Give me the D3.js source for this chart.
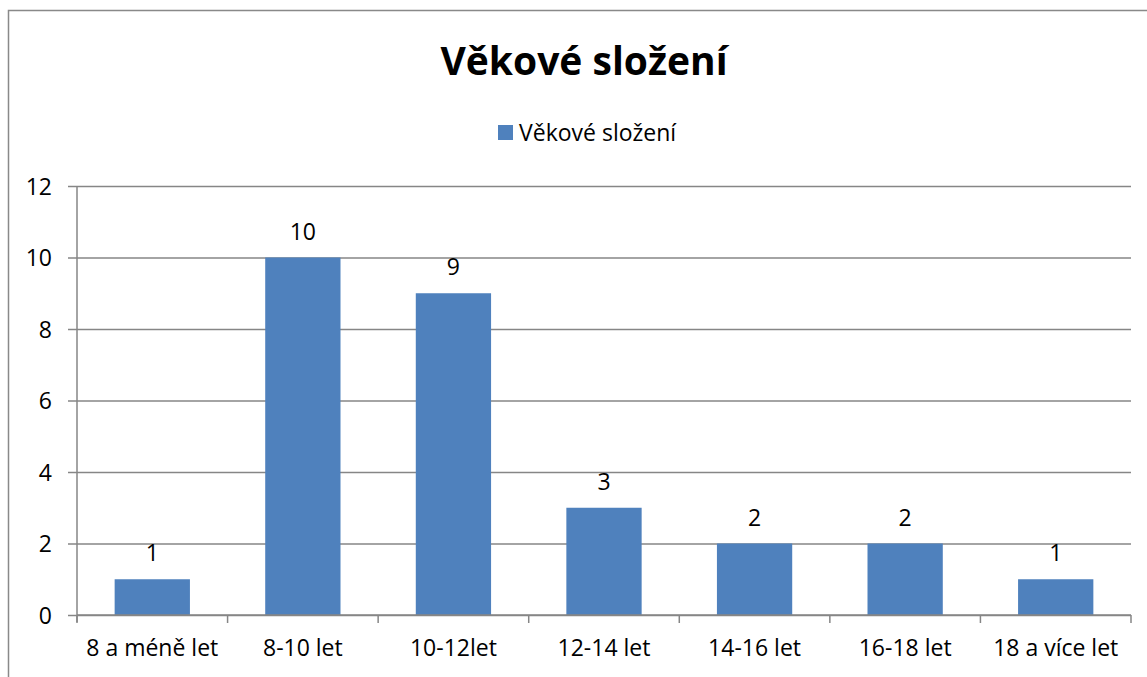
<!DOCTYPE html>
<html><head><meta charset="utf-8">
<script src="https://cdn.jsdelivr.net/npm/d3@7"></script>
<style>
html,body{margin:0;padding:0;background:#fff;}
svg{display:block;}
text{font-family:"Open Sans", sans-serif;fill:#000;}
</style></head>
<body>
<svg id="c" width="1147" height="677"></svg>
<script>
const categories = ["8 a méně let","8-10 let","10-12let","12-14 let","14-16 let","16-18 let","18 a více let"];
const values = [1,10,9,3,2,2,1];
const yTicks = [0,2,4,6,8,10,12];
const title = "Věkové složení";
const seriesName = "Věkové složení";

const svg = d3.select("#c");
const pL = 77, pR = 1131, pT = 186, pB = 615;
const fs = 23;

// outer frame (extends beyond visible area on right/bottom)
svg.append("rect").attr("x",8.5).attr("y",10.5).attr("width",1200).attr("height",800)
  .attr("fill","none").attr("stroke","#898989").attr("stroke-width",1.5);

const x = d3.scaleBand().domain(categories).range([pL,pR]).paddingInner(0.5).paddingOuter(0.25);
const y = d3.scaleLinear().domain([0,12]).range([pB,pT]);

// gridlines + y axis
const yAxis = d3.axisLeft(y).tickValues(yTicks).tickSize(-(pR-pL)).tickPadding(25);
const gy = svg.append("g").attr("transform",`translate(${pL},0)`).call(yAxis);
gy.select(".domain").remove();
gy.selectAll(".tick line").attr("stroke","#868686").attr("stroke-width",1.5).attr("x1",-9);
gy.selectAll(".tick text").attr("font-size",fs).attr("fill","#000").attr("dy","0.36em");

// bars
svg.append("g").selectAll("rect").data(values).join("rect")
  .attr("x",(d,i)=>x(categories[i]))
  .attr("y",d=>y(d))
  .attr("width",x.bandwidth())
  .attr("height",d=>pB-y(d))
  .attr("fill","#4F81BD");

// y axis line
svg.append("line").attr("x1",pL).attr("x2",pL).attr("y1",pT).attr("y2",pB+7)
  .attr("stroke","#868686").attr("stroke-width",1.5);

// x axis
const xAxis = d3.axisBottom(x).tickSize(0).tickPadding(25);
const gx = svg.append("g").attr("transform",`translate(0,${pB})`).call(xAxis);
gx.select(".domain").remove();
gx.selectAll(".tick text").attr("font-size",fs).attr("fill","#000");
svg.append("line").attr("x1",pL).attr("x2",pR).attr("y1",pB).attr("y2",pB)
  .attr("stroke","#868686").attr("stroke-width",1.5);
// category boundary ticks
const bounds = d3.range(categories.length+1).map(i=>pL + i*x.step());
svg.append("g").selectAll("line").data(bounds).join("line")
  .attr("x1",d=>d).attr("x2",d=>d).attr("y1",pB).attr("y2",pB+8)
  .attr("stroke","#868686").attr("stroke-width",1.5);

// data labels
svg.append("g").selectAll("text").data(values).join("text")
  .attr("x",(d,i)=>x(categories[i])+x.bandwidth()/2)
  .attr("y",d=>y(d)-18)
  .attr("text-anchor","middle").attr("font-size",fs)
  .text(d=>d);

// title
svg.append("text").attr("x",584).attr("y",75).attr("text-anchor","middle")
  .attr("font-size",39).attr("font-weight","bold").text(title);

// legend
svg.append("rect").attr("x",498).attr("y",125).attr("width",15).attr("height",15).attr("fill","#4F81BD");
svg.append("text").attr("x",519).attr("y",141).attr("font-size",fs).text(seriesName);
</script>
</body></html>
